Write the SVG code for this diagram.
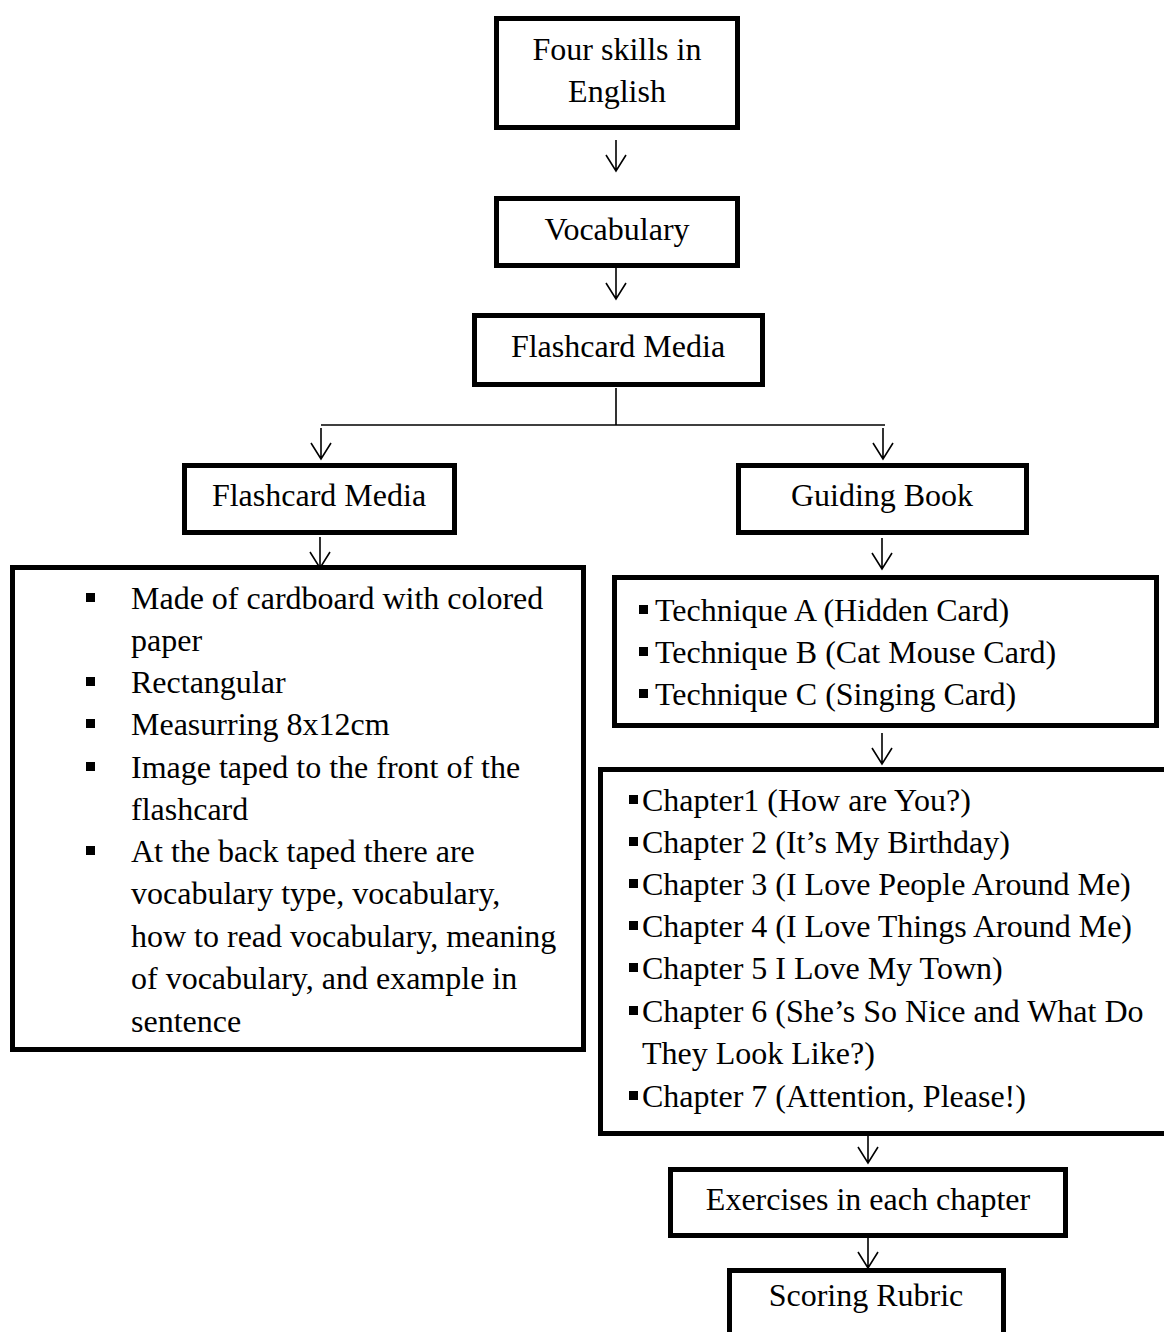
<svg xmlns="http://www.w3.org/2000/svg" width="1164" height="1332" viewBox="0 0 1164 1332">
<style>
.box{fill:#fff;stroke:#000;stroke-width:5}
.t{font-family:"Liberation Serif","Times New Roman",serif;font-size:32px;fill:#000}
.c{text-anchor:middle}
.ln{fill:none;stroke:#000;stroke-width:1.6}
.b{fill:#000}
</style>
<defs>
<g id="arr"><path d="M0,0 V30 M-10,15 L0,31 L10,15" class="ln"/></g>
</defs>
<rect width="1164" height="1332" fill="#fff"/>
<g id="connectors">
<use href="#arr" x="616" y="140"/>
<use href="#arr" x="616" y="268"/>
<path class="ln" d="M616,388 V425 M321,425 H885"/>
<use href="#arr" x="321" y="428"/>
<use href="#arr" x="883" y="428"/>
<use href="#arr" x="320" y="537"/>
<use href="#arr" x="882" y="538"/>
<use href="#arr" x="882" y="733"/>
<use href="#arr" x="868" y="1132"/>
<use href="#arr" x="868" y="1237"/>
</g>
<g id="n1"><rect class="box" x="496.5" y="18.5" width="241" height="109"/>
<text class="t c" x="617" y="60">Four skills in</text><text class="t c" x="617" y="102">English</text></g>
<g id="n2"><rect class="box" x="496.5" y="198.5" width="241" height="67"/>
<text class="t c" x="617" y="240">Vocabulary</text></g>
<g id="n3"><rect class="box" x="474.5" y="315.5" width="288" height="69"/>
<text class="t c" x="618" y="357">Flashcard Media</text></g>
<g id="n4"><rect class="box" x="184.5" y="465.5" width="270" height="67"/>
<text class="t c" x="319" y="506">Flashcard Media</text></g>
<g id="n5"><rect class="box" x="738.5" y="465.5" width="288" height="67"/>
<text class="t c" x="882" y="506">Guiding Book</text></g>
<g id="n6"><rect class="box" x="12.5" y="567.5" width="571" height="482"/>
<g class="b"><rect x="86" y="593" width="9" height="9"/><rect x="86" y="677" width="9" height="9"/><rect x="86" y="719" width="9" height="9"/><rect x="86" y="762" width="9" height="9"/><rect x="86" y="846" width="9" height="9"/></g>
<text class="t" x="131" y="609">Made of cardboard with colored</text>
<text class="t" x="131" y="651">paper</text>
<text class="t" x="131" y="693">Rectangular</text>
<text class="t" x="131" y="735">Measurring 8x12cm</text>
<text class="t" x="131" y="778">Image taped to the front of the</text>
<text class="t" x="131" y="820">flashcard</text>
<text class="t" x="131" y="862">At the back taped there are</text>
<text class="t" x="131" y="904">vocabulary type, vocabulary,</text>
<text class="t" x="131" y="947">how to read vocabulary, meaning</text>
<text class="t" x="131" y="989">of vocabulary, and example in</text>
<text class="t" x="131" y="1032">sentence</text></g>
<g id="n7"><rect class="box" x="614.5" y="577.5" width="542" height="148"/>
<g class="b"><rect x="639" y="605" width="9" height="9"/><rect x="639" y="647" width="9" height="9"/><rect x="639" y="689" width="9" height="9"/></g>
<text class="t" x="655" y="621">Technique A (Hidden Card)</text>
<text class="t" x="655" y="663">Technique B (Cat Mouse Card)</text>
<text class="t" x="655" y="705">Technique C (Singing Card)</text></g>
<g id="n8"><path class="box" d="M1170,769.5 H600.5 V1133.5 H1170"/>
<g class="b"><rect x="629" y="795" width="9" height="9"/><rect x="629" y="837" width="9" height="9"/><rect x="629" y="879" width="9" height="9"/><rect x="629" y="921" width="9" height="9"/><rect x="629" y="963" width="9" height="9"/><rect x="629" y="1006" width="9" height="9"/><rect x="629" y="1091" width="9" height="9"/></g>
<text class="t" x="642" y="811">Chapter1 (How are You?)</text>
<text class="t" x="642" y="853">Chapter 2 (It’s My Birthday)</text>
<text class="t" x="642" y="895">Chapter 3 (I Love People Around Me)</text>
<text class="t" x="642" y="937">Chapter 4 (I Love Things Around Me)</text>
<text class="t" x="642" y="979">Chapter 5 I Love My Town)</text>
<text class="t" x="642" y="1022">Chapter 6 (She’s So Nice and What Do</text>
<text class="t" x="642" y="1064">They Look Like?)</text>
<text class="t" x="642" y="1107">Chapter 7 (Attention, Please!)</text></g>
<g id="n9"><rect class="box" x="670.5" y="1169.5" width="395" height="66"/>
<text class="t c" x="868" y="1210">Exercises in each chapter</text></g>
<g id="n10"><path class="box" d="M729.5,1340 V1270.5 H1003.5 V1340"/>
<text class="t c" x="866" y="1306">Scoring Rubric</text></g>
</svg>
